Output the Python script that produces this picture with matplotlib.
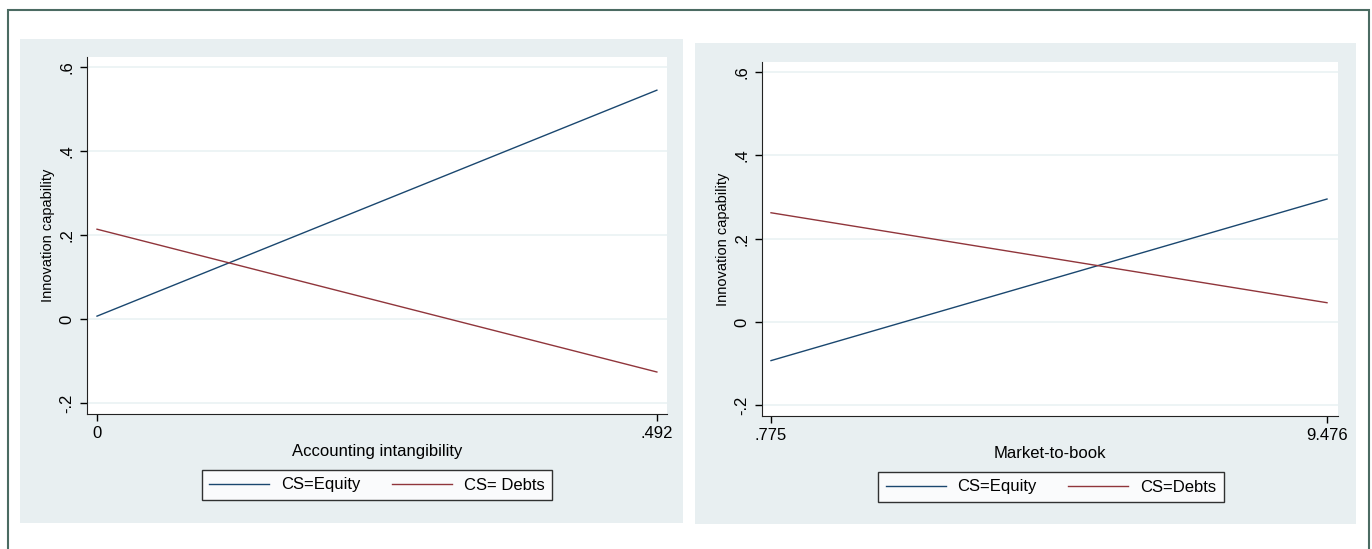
import matplotlib
matplotlib.use("Agg")
import matplotlib.pyplot as plt
from matplotlib.patches import Rectangle

plt.rcParams['font.family'] = ['Liberation Sans', 'DejaVu Sans']

# 数据
yticks = [-0.2, 0, 0.2, 0.4, 0.6]
ytick_labels = ["-.2", "0", ".2", ".4", ".6"]

x_left = [0, 0.492]
equity_left = [0.007, 0.545]
debts_left = [0.214, -0.126]
xtick_left = ["0", ".492"]

x_right = [0.775, 9.476]
equity_right = [-0.093, 0.295]
debts_right = [0.262, 0.046]
xtick_right = [".775", "9.476"]

labels_left = ["CS=Equity", "CS= Debts"]
labels_right = ["CS=Equity", "CS=Debts"]

NAVY = "#1a476f"
MAROON = "#90353b"
PANEL = "#e8eff1"
GRID = "#eaf2f3"

W, H = 1372, 549
fig = plt.figure(figsize=(W / 100, H / 100), dpi=100)


def px(x0, y0, x1, y1):
    """像素坐标 -> figure 坐标"""
    return [x0 / W, 1 - y1 / H, (x1 - x0) / W, (y1 - y0) / H]


# 外框
fig.patches.append(Rectangle((7.5 / W, -0.01), (1369 - 7.5) / W, 1 - 9.5 / H + 0.01,
                             transform=fig.transFigure, facecolor="white",
                             edgecolor="#4b6b62", linewidth=1.5, zorder=-2))
# 两个面板背景
fig.patches.append(Rectangle((20 / W, 1 - 523 / H), (683 - 20) / W, (523 - 39) / H,
                             transform=fig.transFigure, facecolor=PANEL,
                             edgecolor="none", zorder=-1))
fig.patches.append(Rectangle((695 / W, 1 - 524 / H), (1356 - 695) / W, (524 - 43) / H,
                             transform=fig.transFigure, facecolor=PANEL,
                             edgecolor="none", zorder=-1))


def draw_panel(rect, x, eq, debt, xlim, xticklabels, xlabel, legend_labels, legend_center):
    ax = fig.add_axes(rect)
    ax.set_facecolor("white")
    for y in yticks:
        ax.axhline(y, color=GRID, linewidth=1.2, zorder=1)
    l1, = ax.plot(x, eq, color=NAVY, linewidth=1.0, zorder=3)
    l2, = ax.plot(x, debt, color=MAROON, linewidth=1.0, zorder=3)

    ax.set_xlim(xlim)
    ax.set_ylim(-0.226, 0.624)
    ax.set_yticks(yticks)
    ax.set_yticklabels(ytick_labels, rotation=90, va="center", fontsize=12)
    ax.set_xticks(x)
    ax.set_xticklabels(xticklabels, fontsize=12)
    ax.tick_params(direction="out", length=5, width=1, color="black", pad=4)
    ax.spines["top"].set_visible(False)
    ax.spines["right"].set_visible(False)
    ax.spines["left"].set_color("#222222")
    ax.spines["bottom"].set_color("#222222")
    ax.set_xlabel(xlabel, fontsize=12, labelpad=2)
    ax.set_ylabel("Innovation capability", fontsize=10.5, labelpad=3)

    leg = ax.legend([l1, l2], legend_labels, ncol=2, loc="center",
                    bbox_to_anchor=legend_center, bbox_transform=fig.transFigure,
                    fontsize=12, frameon=True, fancybox=False, handlelength=3.6,
                    columnspacing=1.9, handletextpad=0.7, borderpad=0.45,
                    borderaxespad=0)
    leg.get_frame().set_edgecolor("black")
    leg.get_frame().set_linewidth(1.0)
    return ax


draw_panel(px(87, 57, 667, 414), x_left, equity_left, debts_left,
           (-0.0088, 0.5009), xtick_left, "Accounting intangibility",
           labels_left, (377 / W, 1 - 485 / H))

draw_panel(px(762, 62, 1338, 416), x_right, equity_right, debts_right,
           (0.634, 9.648), xtick_right, "Market-to-book",
           labels_right, (1051 / W, 1 - 487 / H))

plt.savefig("out.png", dpi=100)
